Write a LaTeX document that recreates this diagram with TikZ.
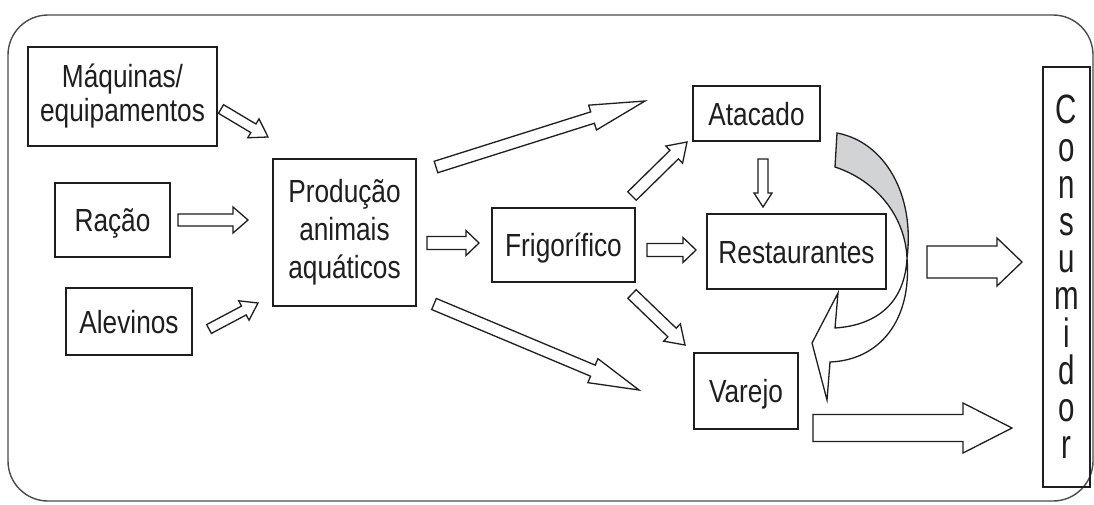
\documentclass[tikz,border=0pt]{standalone}
\usepackage{fontspec}
\setmainfont{Liberation Sans}[FakeStretch=0.82]
\newfontfamily\consfont{Liberation Sans}[FakeStretch=0.72]
\usetikzlibrary{calc}
\definecolor{ink}{HTML}{1E1E1E}
\definecolor{frame}{HTML}{4A4A4A}
\definecolor{ribbon}{HTML}{D1D3D4}
\tikzset{
  box/.style={draw=ink, line width=1.8pt, inner sep=0pt, text=ink,
    font=\fontsize{32}{34}\selectfont},
  oneline/.style={text height=23pt, text depth=0pt},
  barrow/.style={draw=ink, line width=1.3pt, fill=white, line join=miter},
}
\newcommand{\blockarrow}[5]{%
  \coordinate (bhead) at ($(#2)!#5!(#1)$);
  \draw[barrow] ($(#1)!#3!90:(#2)$) -- ($(bhead)!#3!90:(#2)$) -- ($(bhead)!#4!90:(#2)$) -- (#2)
    -- ($(bhead)!#4!-90:(#2)$) -- ($(bhead)!#3!-90:(#2)$) -- ($(#1)!#3!-90:(#2)$) -- cycle;
}
\begin{document}
\begin{tikzpicture}[x=1pt,y=-1pt]
\useasboundingbox (0,0) rectangle (1094,504);
\fill[white] (0,0) rectangle (1094,504);
% outer frame
\draw[frame, line width=1.4pt, rounded corners=40pt] (8,15) rectangle (1093,501);

% boxes
\node[box, minimum width=189pt, minimum height=99pt, align=center] (maq) at (122.5,96.5) {Máquinas/\\equipamentos};
\node[box, oneline, minimum width=115pt, minimum height=74pt] (racao) at (112.5,220) {Ração};
\node[box, oneline, minimum width=126pt, minimum height=67pt] (alev) at (129,321.5) {Alevinos};
\node[box, minimum width=143pt, minimum height=147pt, align=center, font=\fontsize{32}{38}\selectfont] (prod) at (344.5,232.5) {Produção\\animais\\aquáticos};
\node[box, oneline, minimum width=143pt, minimum height=74pt] (frig) at (563.5,245) {Frigorífico};
\node[box, oneline, minimum width=127pt, minimum height=55pt] (atac) at (756.5,113.5) {Atacado};
\node[box, oneline, line width=2.4pt, minimum width=179pt, minimum height=75pt] (rest) at (796.5,251.5) {Restaurantes};
\node[box, oneline, minimum width=104pt, minimum height=76pt] (varejo) at (746,391) {Varejo};
\node[box, minimum width=47pt, minimum height=420pt, align=center, font=\consfont\fontsize{41}{37.2}\selectfont] (cons) at (1066.5,277) {C\\o\\n\\s\\u\\m\\i\\d\\o\\r};

% arrow end points
\coordinate (a1s) at (221,109);  \coordinate (a1e) at (268,137);
\coordinate (a2s) at (178,220);  \coordinate (a2e) at (248,220);
\coordinate (a3s) at (209,329);  \coordinate (a3e) at (258,303);
\coordinate (a4s) at (436,167);  \coordinate (a4e) at (645,101);
\coordinate (a5s) at (427,243);  \coordinate (a5e) at (479,243);
\coordinate (a6s) at (632,196);  \coordinate (a6e) at (687,142);
\coordinate (a7s) at (647,250);  \coordinate (a7e) at (696,250);
\coordinate (a8s) at (632,294);  \coordinate (a8e) at (685,345);
\coordinate (a9s) at (434,304);  \coordinate (a9e) at (639,390);
\coordinate (a10s) at (763,159); \coordinate (a10e) at (763,207);
\coordinate (a11s) at (927,262); \coordinate (a11e) at (1022,262);
\coordinate (a12s) at (813,428); \coordinate (a12e) at (1012,428);

\blockarrow{a1s}{a1e}{5pt}{11pt}{17pt}
\blockarrow{a2s}{a2e}{6pt}{13pt}{15pt}
\blockarrow{a3s}{a3e}{5pt}{11pt}{16pt}
\blockarrow{a4s}{a4e}{6pt}{13pt}{55pt}
\blockarrow{a5s}{a5e}{6.5pt}{12.5pt}{13pt}
\blockarrow{a6s}{a6e}{6pt}{12pt}{18pt}
\blockarrow{a7s}{a7e}{6.5pt}{12.5pt}{13pt}
\blockarrow{a8s}{a8e}{6pt}{12pt}{18pt}
\blockarrow{a9s}{a9e}{6pt}{13pt}{50pt}
\blockarrow{a10s}{a10e}{5pt}{9pt}{14pt}
\blockarrow{a11s}{a11e}{16pt}{24pt}{25pt}
\blockarrow{a12s}{a12e}{13.5pt}{25pt}{49pt}

% curved ribbon arrow
\coordinate (t1) at (837,133);
\coordinate (t2) at (835,167);
\coordinate (cx) at (907,258);
\coordinate (h1) at (835,328);
\coordinate (h2) at (830,362);
\coordinate (b1) at (838,293);
\coordinate (b2) at (812,343);
\coordinate (tip) at (827,400);
\draw[barrow, fill=ribbon] (t1) .. controls (885,142) and (915,195) .. (cx)
  .. controls (905,215) and (875,180) .. (t2) -- cycle;
\draw[barrow] (cx) .. controls (912,320) and (880,360) .. (h2) -- (tip) -- (b2) -- (b1) -- (h1)
  .. controls (880,325) and (905,300) .. (cx);
\end{tikzpicture}
\end{document}
